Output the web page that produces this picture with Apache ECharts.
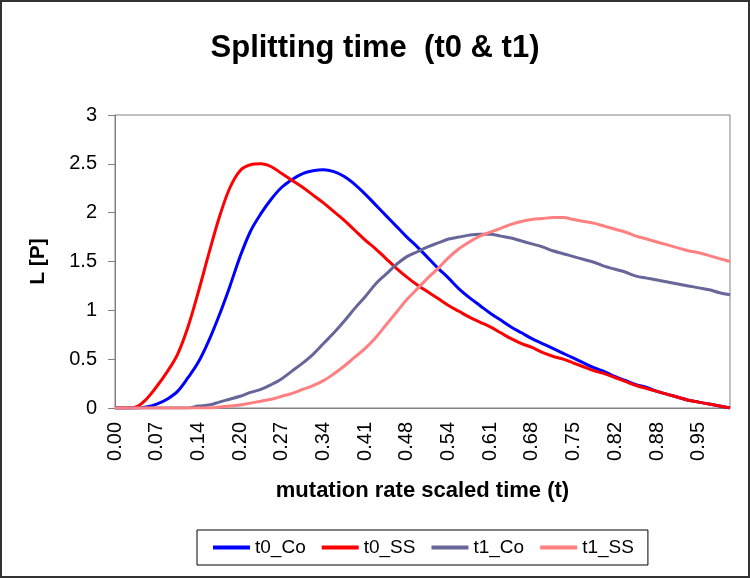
<!DOCTYPE html>
<html>
<head>
<meta charset="utf-8">
<script src="https://cdn.jsdelivr.net/npm/echarts@6/dist/echarts.min.js"></script>
<style>
  html, body { margin: 0; padding: 0; background: #fff; }
  #chart { width: 750px; height: 578px; }
</style>
</head>
<body>
<div id="chart"></div>
<script>
// x positions (t), one point every 0.017
const times = [
  '0.000', '0.017', '0.034', '0.051', '0.068', '0.085', '0.102', '0.119', '0.136', '0.153',
  '0.170', '0.187', '0.204', '0.221', '0.238', '0.255', '0.272', '0.289', '0.306', '0.323',
  '0.340', '0.357', '0.374', '0.391', '0.408', '0.425', '0.442', '0.459', '0.476', '0.493',
  '0.510', '0.527', '0.544', '0.561', '0.578', '0.595', '0.612', '0.629', '0.646', '0.663',
  '0.680', '0.697', '0.714', '0.731', '0.748', '0.765', '0.782', '0.799', '0.816', '0.833',
  '0.850', '0.867', '0.884', '0.901', '0.918', '0.935', '0.952', '0.969', '0.986', '1.003'
]

const t0Co = [
  0, 0, 0, 0.01, 0.04, 0.09, 0.17, 0.31, 0.47, 0.69,
  0.95, 1.24, 1.55, 1.81, 1.99, 2.14, 2.26, 2.34, 2.40, 2.43,
  2.44, 2.42, 2.37, 2.29, 2.19, 2.08, 1.97, 1.86, 1.75, 1.65,
  1.54, 1.43, 1.33, 1.22, 1.13, 1.05, 0.97, 0.90, 0.83, 0.77,
  0.71, 0.66, 0.61, 0.56, 0.51, 0.46, 0.41, 0.37, 0.32, 0.28,
  0.24, 0.21, 0.17, 0.14, 0.11, 0.08, 0.06, 0.04, 0.02, 0
]

const t0SS = [
  0, 0, 0.01, 0.09, 0.22, 0.37, 0.55, 0.83, 1.19, 1.58,
  1.95, 2.25, 2.43, 2.49, 2.50, 2.47, 2.40, 2.33, 2.26, 2.18,
  2.10, 2.01, 1.92, 1.82, 1.72, 1.63, 1.53, 1.43, 1.34, 1.26,
  1.19, 1.12, 1.05, 0.99, 0.93, 0.88, 0.83, 0.77, 0.71, 0.66,
  0.62, 0.57, 0.53, 0.50, 0.46, 0.42, 0.38, 0.35, 0.31, 0.27,
  0.23, 0.20, 0.17, 0.14, 0.11, 0.08, 0.06, 0.04, 0.02, 0
]

const t1Co = [
  0, 0, 0, 0, 0, 0, 0, 0, 0.02, 0.03,
  0.06, 0.09, 0.12, 0.16, 0.19, 0.24, 0.30, 0.38, 0.46, 0.55,
  0.66, 0.77, 0.89, 1.02, 1.14, 1.27, 1.37, 1.47, 1.55, 1.60,
  1.65, 1.69, 1.73, 1.75, 1.77, 1.78, 1.78, 1.76, 1.74, 1.71,
  1.68, 1.65, 1.61, 1.58, 1.55, 1.52, 1.49, 1.45, 1.42, 1.39,
  1.35, 1.33, 1.31, 1.29, 1.27, 1.25, 1.23, 1.21, 1.18, 1.16
]

const t1SS = [
  0, 0, 0, 0, 0, 0, 0, 0, 0, 0,
  0.01, 0.02, 0.03, 0.05, 0.07, 0.09, 0.12, 0.15, 0.19, 0.23,
  0.28, 0.35, 0.43, 0.52, 0.61, 0.72, 0.85, 0.98, 1.11, 1.22,
  1.33, 1.43, 1.54, 1.63, 1.70, 1.76, 1.80, 1.84, 1.88, 1.91,
  1.93, 1.94, 1.95, 1.95, 1.93, 1.91, 1.89, 1.86, 1.83, 1.80,
  1.76, 1.73, 1.70, 1.67, 1.64, 1.61, 1.59, 1.56, 1.53, 1.50
]

const names = ['t0_Co', 't0_SS', 't1_Co', 't1_SS']
const colors = ['#0000ff', '#ff0000', '#666699', '#ff8080']

const font = '"Liberation Sans", Arial, sans-serif'

var myChart = echarts.init(document.getElementById('chart'))

const lines = [t0Co, t0SS, t1Co, t1SS].map((vals, i) => ({
  name: names[i],
  type: 'line',
  data: vals,
  showSymbol: false,
  smooth: 0.35,
  color: colors[i],
  lineStyle: { width: 3, color: colors[i] }
}))

myChart.setOption({
  animation: false,
  backgroundColor: '#fff',
  textStyle: { fontFamily: font },
  title: {
    text: 'Splitting time  (t0 & t1)',
    left: 'center',
    top: 28,
    textStyle: { fontSize: 31, fontWeight: 'bold', color: '#000', fontFamily: font }
  },
  graphic: [{
    type: 'rect',
    shape: { x: 1, y: 1, width: 748, height: 576 },
    style: { fill: null, stroke: '#333', lineWidth: 2 },
    silent: true
  }],
  legend: {
    data: names,
    left: 197,
    top: 530,
    padding: [8, 14, 8, 16],
    itemWidth: 37,
    itemHeight: 4,
    itemGap: 16,
    icon: 'rect',
    borderColor: '#000',
    borderWidth: 1,
    borderRadius: 0,
    textStyle: { fontSize: 19, color: '#000', fontFamily: font }
  },
  grid: {
    left: 115,
    right: 20,
    top: 115,
    bottom: 170,
    show: true,
    borderColor: '#808080',
    borderWidth: 1
  },
  xAxis: {
    type: 'category',
    data: times,
    boundaryGap: false,
    name: 'mutation rate scaled time (t)',
    nameLocation: 'middle',
    nameGap: 72,
    nameTextStyle: { fontSize: 22, fontWeight: 'bold', color: '#000' },
    axisLine: { lineStyle: { color: '#808080' } },
    axisTick: { show: false },
    axisLabel: {
      interval: 3,
      rotate: 90,
      margin: 14,
      fontSize: 20,
      color: '#000',
      formatter: v => Number(v).toFixed(2)
    },
    splitLine: { show: false }
  },
  yAxis: {
    type: 'value',
    min: 0,
    max: 3,
    interval: 0.5,
    name: 'L [P]',
    nameLocation: 'middle',
    nameGap: 66,
    nameTextStyle: { fontSize: 21, fontWeight: 'bold', color: '#000' },
    axisLine: { show: true, lineStyle: { color: '#808080' } },
    axisTick: { show: true, length: 7, lineStyle: { color: '#808080' } },
    axisLabel: { fontSize: 20, color: '#000', margin: 18 },
    splitLine: { show: false }
  },
  series: lines
})
</script>
</body>
</html>
